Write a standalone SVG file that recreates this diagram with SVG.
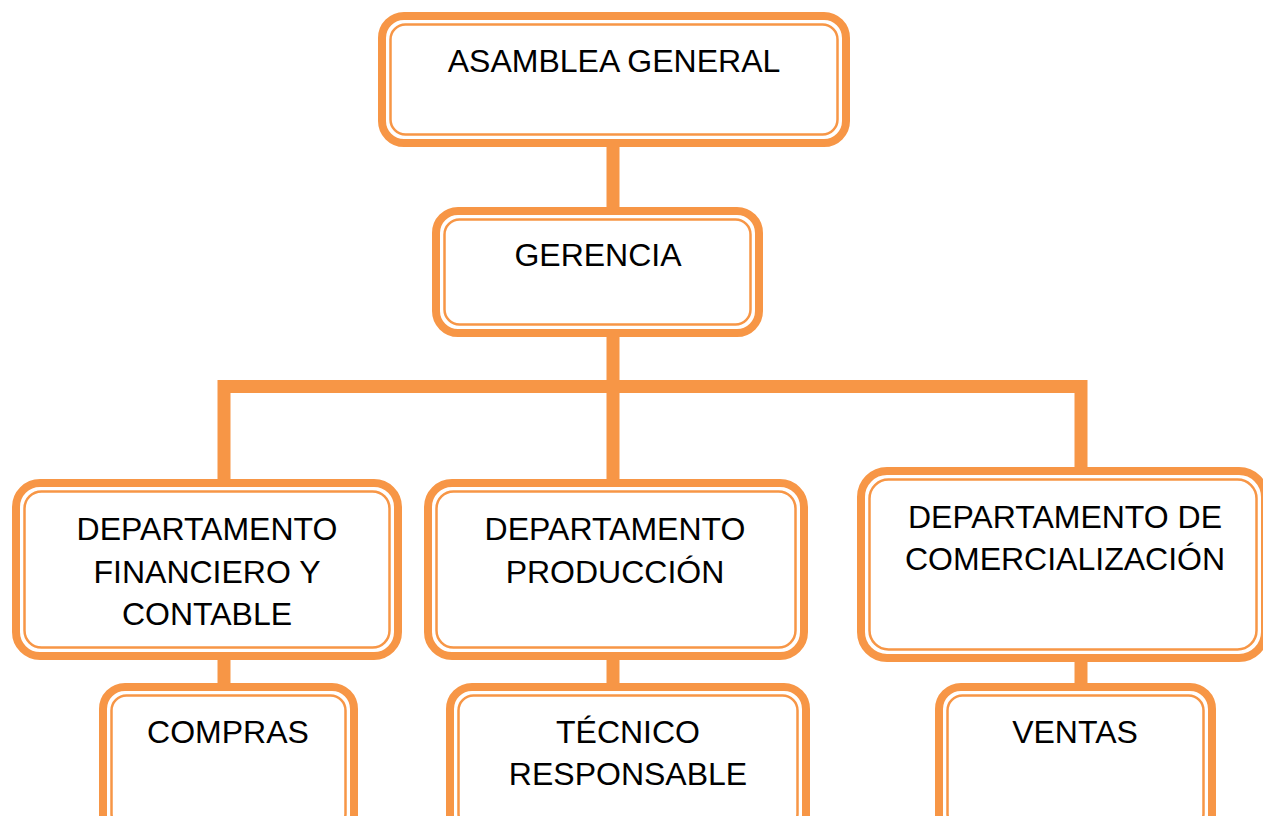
<svg xmlns="http://www.w3.org/2000/svg" width="1263" height="816" viewBox="0 0 1263 816">
<style>
.o{fill:#fff;stroke:#F79646;stroke-width:8}
.i{fill:none;stroke:#F79646;stroke-width:2.5}
.c{stroke:#F79646;stroke-width:13;fill:none;stroke-linecap:butt}
text{font-family:"Liberation Sans",Arial,sans-serif;font-size:32px;fill:#000;text-anchor:middle}
</style>
<rect width="1263" height="816" fill="#fff"/>
<g id="connectors">
<line class="c" x1="613" y1="145" x2="613" y2="210"/>
<line class="c" x1="613" y1="335" x2="613" y2="482"/>
<polyline class="c" points="224,482 224,386.5 1081,386.5 1081,470"/>
<line class="c" x1="224" y1="657" x2="224" y2="686"/>
<line class="c" x1="613" y1="657" x2="613" y2="686"/>
<line class="c" x1="1081" y1="659" x2="1081" y2="686"/>
</g>
<g id="asamblea">
<rect class="o" x="382" y="16" width="464" height="127" rx="22"/>
<rect class="i" x="390.5" y="24.5" width="447" height="110" rx="15"/>
<text x="614" y="72">ASAMBLEA GENERAL</text>
</g>
<g id="gerencia">
<rect class="o" x="436" y="211" width="323" height="122" rx="22"/>
<rect class="i" x="444.5" y="219.5" width="306" height="105" rx="15"/>
<text x="598" y="266">GERENCIA</text>
</g>
<g id="financiero">
<rect class="o" x="16" y="483" width="382" height="173" rx="24"/>
<rect class="i" x="24.5" y="491.5" width="365" height="156" rx="17"/>
<text x="207" y="540">DEPARTAMENTO</text>
<text x="207" y="583">FINANCIERO Y</text>
<text x="207" y="625">CONTABLE</text>
</g>
<g id="produccion">
<rect class="o" x="428" y="483" width="376" height="173" rx="24"/>
<rect class="i" x="436.5" y="491.5" width="359" height="156" rx="17"/>
<text x="615" y="540">DEPARTAMENTO</text>
<text x="615" y="583">PRODUCCIÓN</text>
</g>
<g id="comercializacion">
<rect class="o" x="861" y="471" width="404" height="187" rx="26"/>
<rect class="i" x="869.5" y="479.5" width="387" height="170" rx="19"/>
<text x="1065" y="528">DEPARTAMENTO DE</text>
<text x="1065" y="570">COMERCIALIZACIÓN</text>
</g>
<g id="compras">
<rect class="o" x="103" y="687" width="251" height="150" rx="22"/>
<rect class="i" x="111.5" y="695.5" width="234" height="133" rx="15"/>
<text x="228" y="743">COMPRAS</text>
</g>
<g id="tecnico">
<rect class="o" x="450" y="687" width="356" height="150" rx="22"/>
<rect class="i" x="458.5" y="695.5" width="339" height="133" rx="15"/>
<text x="628" y="743">TÉCNICO</text>
<text x="628" y="785">RESPONSABLE</text>
</g>
<g id="ventas">
<rect class="o" x="939" y="687" width="273" height="150" rx="22"/>
<rect class="i" x="947.5" y="695.5" width="256" height="133" rx="15"/>
<text x="1075" y="743">VENTAS</text>
</g>
</svg>
